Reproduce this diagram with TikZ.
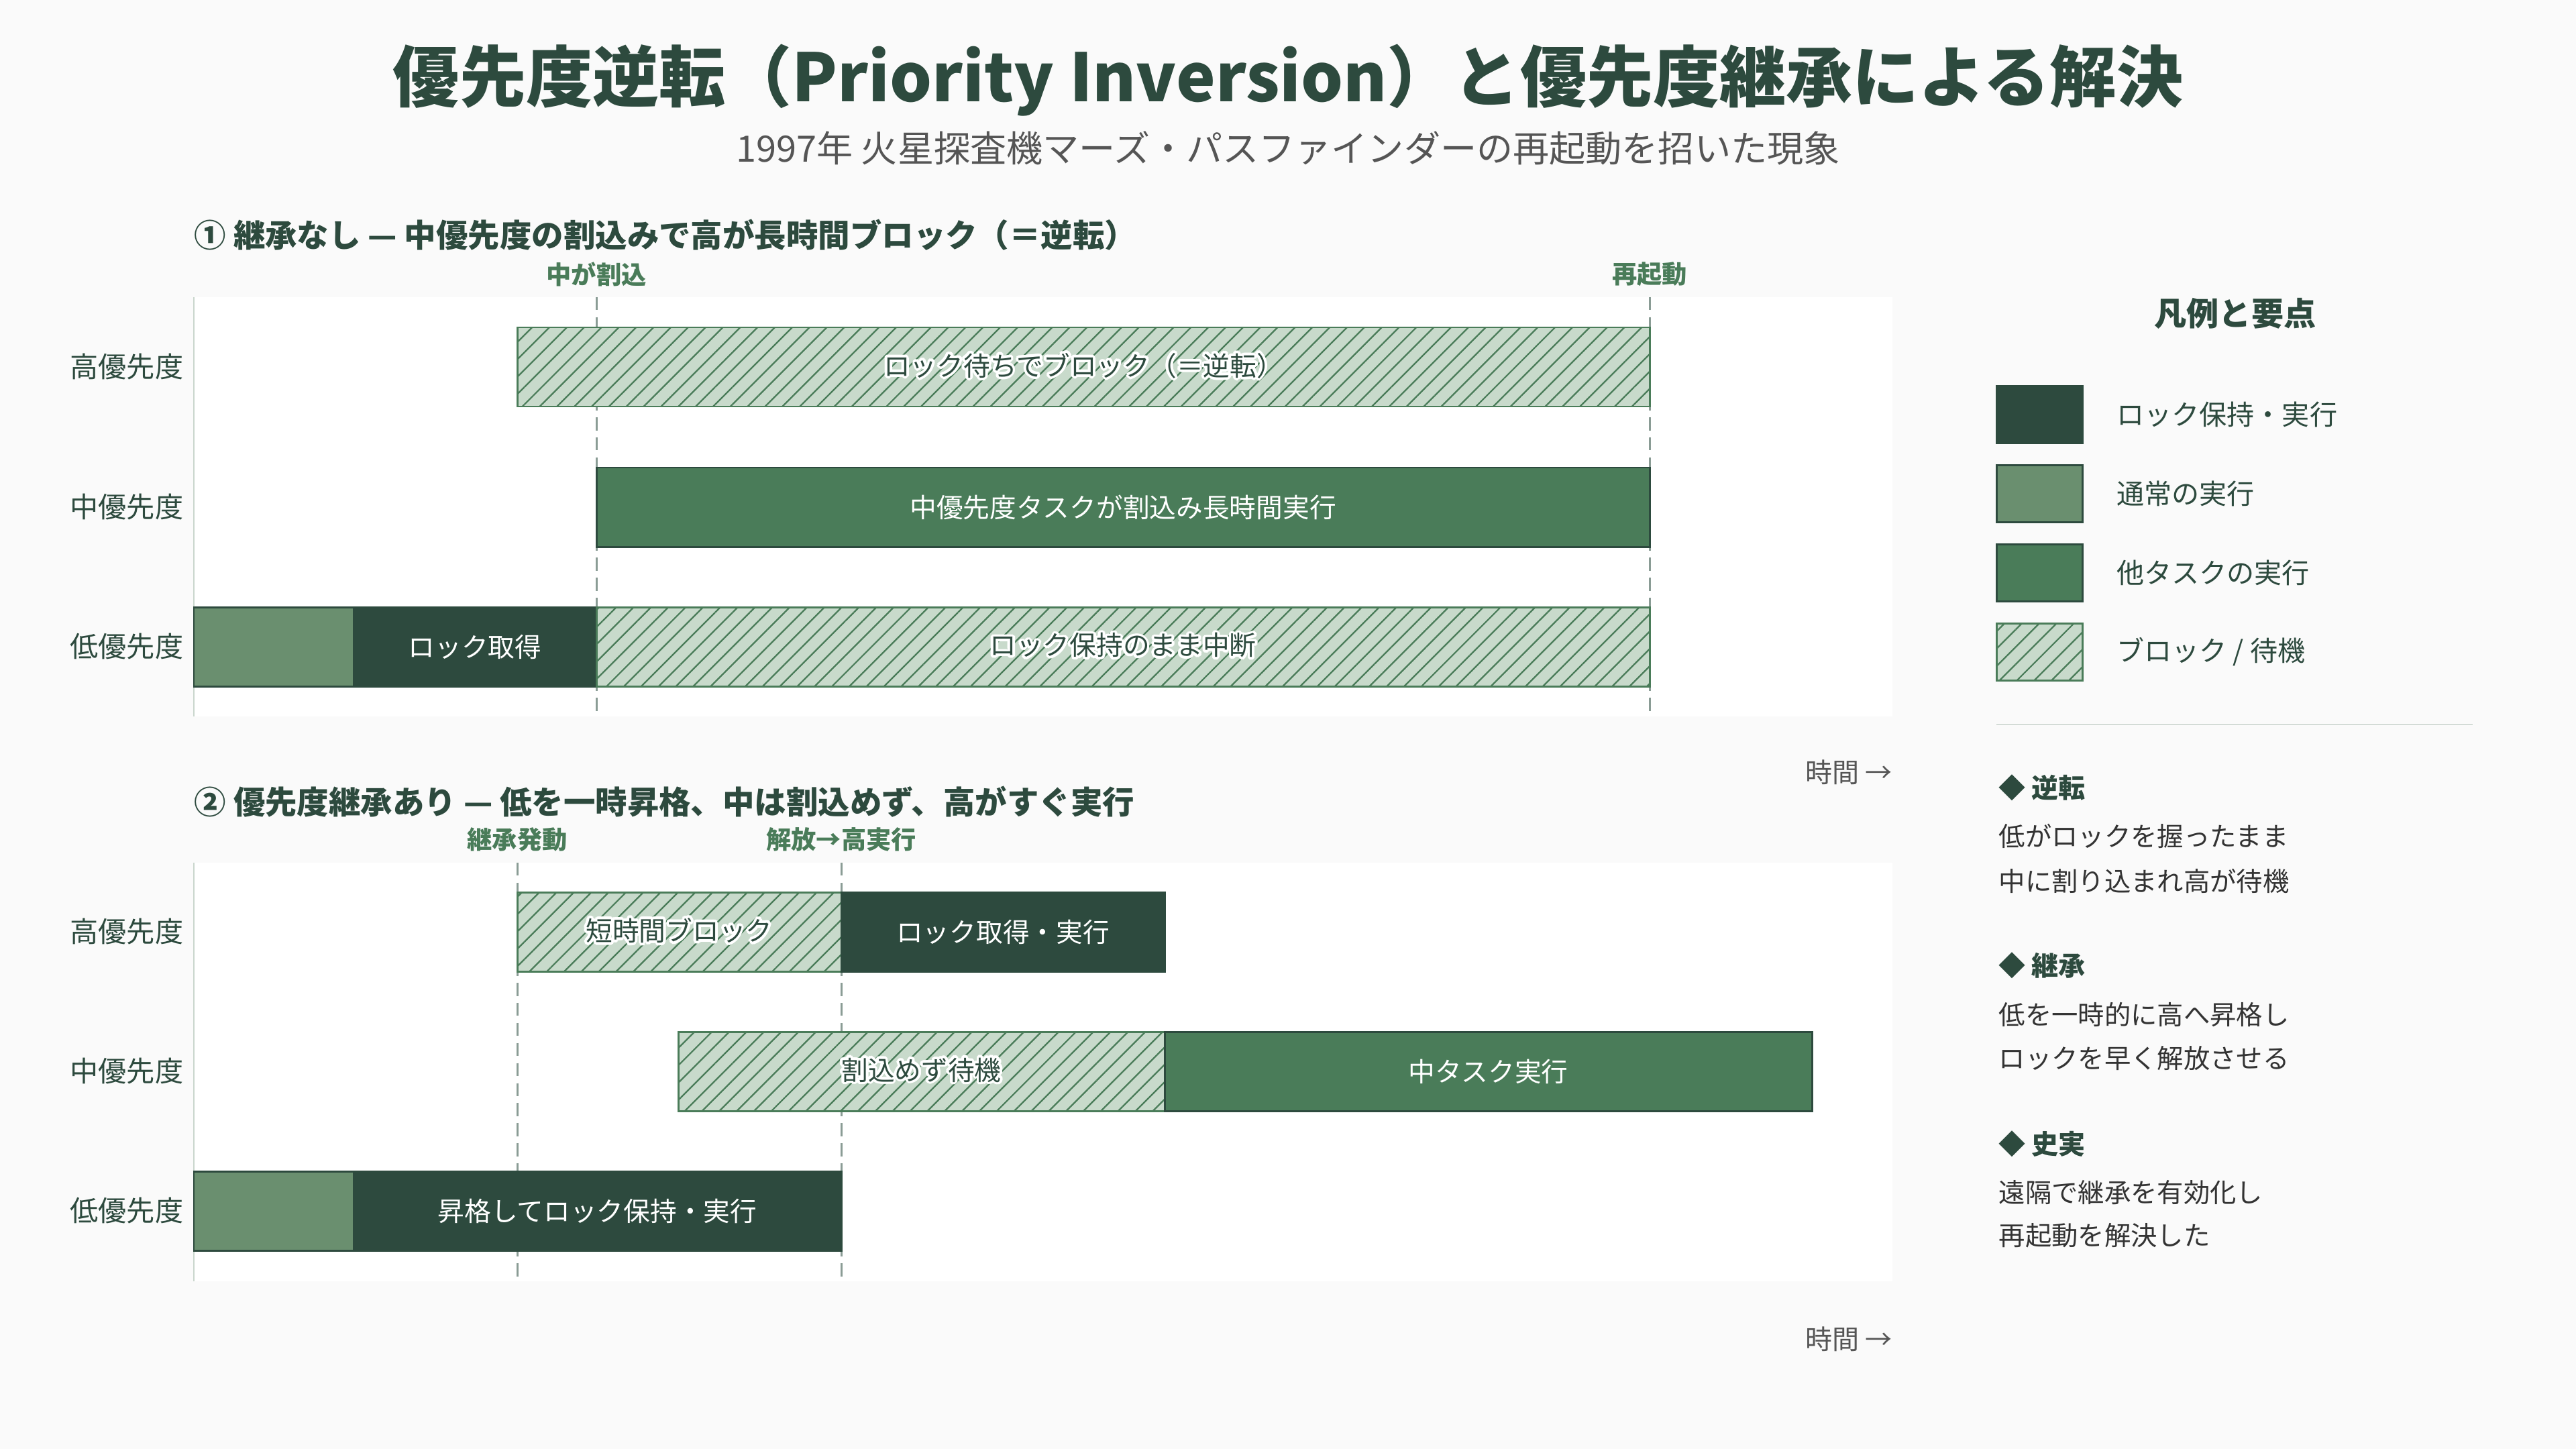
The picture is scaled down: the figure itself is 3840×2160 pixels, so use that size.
\documentclass[tikz,border=0pt]{standalone}
\usepackage{fontspec}
\setmainfont{Noto Sans CJK JP}
\usepackage{contour}
\contourlength{1.1pt}
\usetikzlibrary{positioning, fit, patterns.meta}
\definecolor{dark}{HTML}{2D4A3E}
\definecolor{midgreen}{HTML}{4A7C59}
\definecolor{normgreen}{HTML}{6A8F6F}
\definecolor{hatchbg}{HTML}{C8DACB}
\definecolor{pagebg}{HTML}{FAFAFA}
\definecolor{axisgray}{HTML}{C9D6CD}
\definecolor{guidegray}{HTML}{8A9C95}
\definecolor{subgray}{HTML}{555555}
\definecolor{bodygray}{HTML}{333333}
\definecolor{rulegray}{HTML}{D3DBD6}
\tikzset{
	maintitle/.style={font=\bfseries\fontsize{28.2}{34}\selectfont, text=dark},
	subtitle/.style={font=\fontsize{15.4}{18}\selectfont, text=subgray},
	secthead/.style={anchor=west, inner sep=0pt, font=\bfseries\fontsize{13.5}{16}\selectfont, text=dark},
	marklabel/.style={font=\bfseries\fontsize{10.6}{12}\selectfont, text=midgreen},
	rowlabel/.style={anchor=east, inner sep=0pt, font=\fontsize{12}{14}\selectfont, text=dark},
	timelabel/.style={anchor=east, inner sep=0pt, font=\fontsize{11.4}{14}\selectfont, text=subgray},
	guide/.style={guidegray, line width=0.85pt, dash pattern=on 5.5pt off 3pt},
	axisline/.style={axisgray, line width=0.6pt},
	bar/.style={draw, line width=0.85pt, inner sep=0pt},
	lockbar/.style={bar, fill=dark, draw=dark},
	otherbar/.style={bar, fill=midgreen, draw=dark},
	normbar/.style={bar, fill=normgreen, draw=dark},
	blockbar/.style={bar, draw=midgreen, preaction={fill=hatchbg}, pattern={Lines[angle=45, distance=5.2pt, line width=0.65pt]}, pattern color=midgreen},
	barlabel/.style={inner sep=0pt, font=\fontsize{11.3}{13}\selectfont, text=white},
	haltlabel/.style={barlabel, text=dark},
	swatch/.style={minimum width=12.8mm, minimum height=8.5mm},
	legtitle/.style={font=\bfseries\fontsize{13.7}{16}\selectfont, text=dark},
	legtext/.style={inner sep=0pt, font=\fontsize{11.7}{14}\selectfont, text=dark},
	pointhead/.style={anchor=west, inner sep=0pt, font=\bfseries\fontsize{11.4}{14}\selectfont, text=dark},
	pointbody/.style={anchor=west, inner sep=0pt, font=\fontsize{11.2}{14}\selectfont, text=bodygray},
}
\begin{document}
\begin{tikzpicture}[x=0.1mm, y=-0.1mm]
	\fill[pagebg] (0,0) rectangle (3840,2160);
	\useasboundingbox (0,0) rectangle (3840,2160);
	\node[maintitle] (title) at (1920,120) {優先度逆転（Priority Inversion）と優先度継承による解決};
	\node[subtitle] (subtitle) at (1920,221) {1997年 火星探査機マーズ・パスファインダーの再起動を招いた現象};

	% ① no inheritance
	\node[secthead] (headA) at (289,350) {① 継承なし — 中優先度の割込みで高が長時間ブロック（＝逆転）};
	\fill[white] (289,443) rectangle (2821,1068);
	\coordinate (axAtop) at (289,443);
	\coordinate (axAbot) at (289,1068);
	\coordinate (gA1top) at (889,443);
	\coordinate (gA1bot) at (889,1068);
	\coordinate (gA2top) at (2459,443);
	\coordinate (gA2bot) at (2459,1068);
	\draw[axisline] (axAtop) -- (axAbot);
	\draw[guide] (gA1top) -- (gA1bot);
	\draw[guide] (gA2top) -- (gA2bot);
	\node[marklabel] (markA1) at (889,409) {中が割込};
	\node[marklabel] (markA2) at (2459,409) {再起動};
	\node[rowlabel] (rowAhi) at (274,547) {高優先度};
	\node[rowlabel] (rowAmid) at (274,756) {中優先度};
	\node[rowlabel] (rowAlo) at (274,964) {低優先度};
	\node[blockbar, fit={(771,488) (2459,606)}] (hiA) {};
	\node[otherbar, fit={(889,697) (2459,815)}] (midA) {};
	\node[normbar, fit={(289,905) (527,1023)}] (loA1) {};
	\node[lockbar, fit={(527,905) (889,1023)}] (loA2) {};
	\node[blockbar, fit={(889,905) (2459,1023)}] (loA3) {};
	\node[haltlabel] (hiAtxt) at (hiA) {\contour{white}{ロック待ちでブロック（＝逆転）}};
	\node[barlabel] (midAtxt) at (midA) {中優先度タスクが割込み長時間実行};
	\node[barlabel] (loA2txt) at (loA2) {ロック取得};
	\node[haltlabel] (loA3txt) at (loA3) {\contour{white}{ロック保持のまま中断}};
	\node[timelabel] (timeA) at (2821,1151) {時間 →};

	% ② with inheritance
	\node[secthead] (headB) at (289,1195) {② 優先度継承あり — 低を一時昇格、中は割込めず、高がすぐ実行};
	\fill[white] (289,1286) rectangle (2821,1910);
	\coordinate (axBtop) at (289,1286);
	\coordinate (axBbot) at (289,1910);
	\coordinate (gB1top) at (771,1286);
	\coordinate (gB1bot) at (771,1910);
	\coordinate (gB2top) at (1254,1286);
	\coordinate (gB2bot) at (1254,1910);
	\draw[axisline] (axBtop) -- (axBbot);
	\draw[guide] (gB1top) -- (gB1bot);
	\draw[guide] (gB2top) -- (gB2bot);
	\node[marklabel] (markB1) at (771,1251) {継承発動};
	\node[marklabel] (markB2) at (1254,1251) {解放→高実行};
	\node[rowlabel] (rowBhi) at (274,1389) {高優先度};
	\node[rowlabel] (rowBmid) at (274,1597) {中優先度};
	\node[rowlabel] (rowBlo) at (274,1805) {低優先度};
	\node[blockbar, fit={(771,1330) (1254,1448)}] (hiB1) {};
	\node[lockbar, fit={(1254,1330) (1736,1448)}] (hiB2) {};
	\node[blockbar, fit={(1011,1538) (1736,1656)}] (midB1) {};
	\node[otherbar, fit={(1736,1538) (2701,1656)}] (midB2) {};
	\node[normbar, fit={(289,1746) (527,1864)}] (loB1) {};
	\node[lockbar, fit={(527,1746) (1254,1864)}] (loB2) {};
	\node[haltlabel] (hiB1txt) at (hiB1) {\contour{white}{短時間ブロック}};
	\node[barlabel] (hiB2txt) at (hiB2) {ロック取得・実行};
	\node[haltlabel] (midB1txt) at (midB1) {\contour{white}{割込めず待機}};
	\node[barlabel] (midB2txt) at (midB2) {中タスク実行};
	\node[barlabel] (loB2txt) at (loB2) {昇格してロック保持・実行};
	\node[timelabel] (timeB) at (2821,1996) {時間 →};

	% legend
	\node[legtitle] (legtitle) at (3332,467) {凡例と要点};
	\node[swatch, lockbar] (sw1) at (3040,618) {};
	\node[swatch, normbar, below=3.0mm of sw1] (sw2) {};
	\node[swatch, otherbar, below=3.0mm of sw2] (sw3) {};
	\node[swatch, blockbar, below=3.0mm of sw3] (sw4) {};
	\node[legtext, right=4.9mm of sw1] (lt1) {ロック保持・実行};
	\node[legtext, right=4.9mm of sw2] (lt2) {通常の実行};
	\node[legtext, right=4.9mm of sw3] (lt3) {他タスクの実行};
	\node[legtext, right=4.9mm of sw4] (lt4) {ブロック / 待機};
	\coordinate (sepL) at (2976,1080);
	\coordinate (sepR) at (3686,1080);
	\draw[rulegray, line width=0.6pt] (sepL) -- (sepR);
	\node[pointhead] (ph1) at (2979,1174) {◆ 逆転};
	\node[pointbody] (pb11) at (2979,1246) {低がロックを握ったまま};
	\node[pointbody] (pb12) at (2979,1313) {中に割り込まれ高が待機};
	\node[pointhead] (ph2) at (2979,1439) {◆ 継承};
	\node[pointbody] (pb21) at (2979,1512) {低を一時的に高へ昇格し};
	\node[pointbody] (pb22) at (2979,1578) {ロックを早く解放させる};
	\node[pointhead] (ph3) at (2979,1705) {◆ 史実};
	\node[pointbody] (pb31) at (2979,1778) {遠隔で継承を有効化し};
	\node[pointbody] (pb32) at (2979,1842) {再起動を解決した};
\end{tikzpicture}
\end{document}
